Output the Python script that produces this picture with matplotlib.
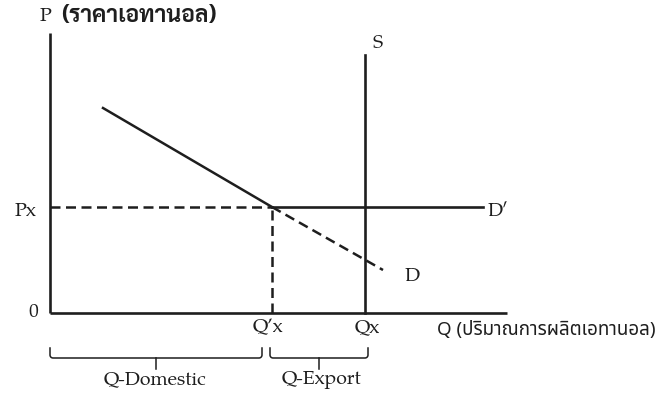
import matplotlib
matplotlib.use("Agg")
import matplotlib.pyplot as plt
import numpy as np

# values (arbitrary units, origin at 0)
price_world = 106          # Px
qty_domestic = 222         # Q'x
qty_supply = 315           # Qx (vertical supply)
demand_q = [53, 222, 333]
demand_p = [205, 106, 43]
supply_top = 258
world_end = 433
axis_top = 280
axis_right = 457

serif = ["TeX Gyre Pagella", "P052", "URW Palladio L", "Palatino Linotype",
         "Crimson Pro", "PT Serif", "Trirong", "DejaVu Serif"]
thai_loop = ["Sarabun", "Niramit", "Trirong", "DejaVu Sans"]
thai_sans = ["Noto Sans Thai", "Kanit", "Niramit", "DejaVu Sans"]
ink = "#1e1e1e"

fig = plt.figure(figsize=(6.6, 3.93), dpi=100)
ax = fig.add_axes([0, 0, 1, 1])
ax.set_xlim(-50, 610)
ax.set_ylim(-80, 313)
ax.axis("off")

# axes
ax.plot([0, 0], [0, axis_top], color=ink, lw=1.9, solid_capstyle="butt")
ax.plot([0, axis_right], [0, 0], color=ink, lw=1.9, solid_capstyle="butt")

dash = (0, (4, 2.2))
# demand: solid above Px, dashed below
ax.plot(demand_q[:2], demand_p[:2], color=ink, lw=1.8)
ax.plot(demand_q[1:], demand_p[1:], color=ink, lw=1.8, linestyle=dash)
# guides at Px and Q'x
ax.plot([0, qty_domestic], [price_world, price_world], color=ink, lw=1.8, linestyle=dash)
ax.plot([qty_domestic, qty_domestic], [0, price_world], color=ink, lw=1.8, linestyle=dash)
# world price D'
ax.plot([qty_domestic, world_end], [price_world, price_world], color=ink, lw=1.9)
# supply S
ax.plot([qty_supply, qty_supply], [0, supply_top], color=ink, lw=1.9)


def brace(x0, x1, y=-45, h=10, r=3):
    # underbrace with rounded ends and a short middle tick
    t = np.linspace(np.pi, 1.5 * np.pi, 8)
    lx = x0 + r + r * np.cos(t)
    ly = y + r + r * np.sin(t)
    t2 = np.linspace(1.5 * np.pi, 2 * np.pi, 8)
    rx = x1 - r + r * np.cos(t2)
    ry = y + r + r * np.sin(t2)
    xs = np.concatenate([[x0], lx, rx, [x1]])
    ys = np.concatenate([[y + h], ly, ry, [y + h]])
    ax.plot(xs, ys, color=ink, lw=1.1)
    xm = (x0 + x1) / 2
    ax.plot([xm, xm], [y, y - 11], color=ink, lw=1.1)


brace(0, qty_domestic - 10)
brace(qty_domestic - 2, qty_supply + 3)

fs = 14
ax.text(-10, 296, "P", family=serif, fontsize=fs, ha="left", va="center", color=ink)
ax.text(11, 297, "(ราคาเอทานอล)", family=thai_loop, fontsize=16.5, weight="bold",
        ha="left", va="center", color=ink)
ax.text(-14, price_world - 5, "Px", family=serif, fontsize=fs, ha="right", va="center", color=ink)
ax.text(-12, 0, "0", family=serif, fontsize=fs, ha="right", va="center", color=ink)
ax.text(qty_domestic - 4, -15, "Q’x", family=serif, fontsize=fs, ha="center", va="center", color=ink)
ax.text(qty_supply + 2, -15, "Qx", family=serif, fontsize=fs, ha="center", va="center", color=ink)
ax.text(387, -17, "Q (ปริมาณการผลิตเอทานอล)", family=thai_sans, fontsize=13.5, weight="bold",
        ha="left", va="center", color=ink)
ax.text(328, 269, "S", family=serif, fontsize=fs, ha="center", va="center", color=ink)
ax.text(438, price_world - 5, "D′", family=serif, fontsize=fs, ha="left", va="center", color=ink)
ax.text(355, 36, "D", family=serif, fontsize=fs, ha="left", va="center", color=ink)
ax.text(105, -67, "Q-Domestic", family=serif, fontsize=fs, ha="center", va="center", color=ink)
ax.text(271, -67, "Q-Export", family=serif, fontsize=fs, ha="center", va="center", color=ink)

fig.savefig("out.png", dpi=100, facecolor="white")
